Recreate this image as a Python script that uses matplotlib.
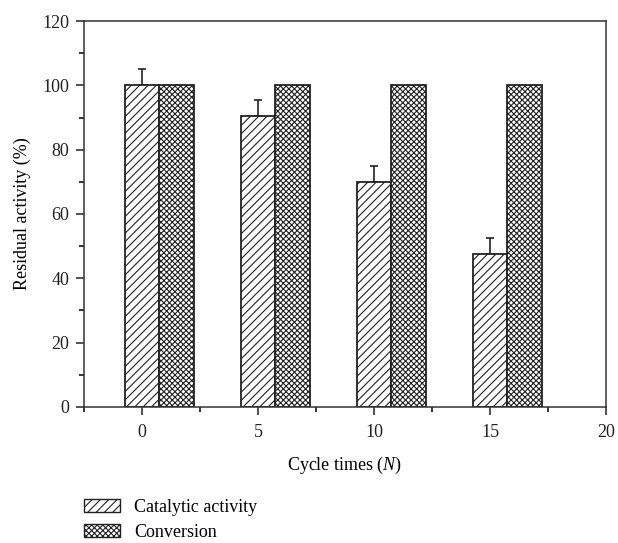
import matplotlib
matplotlib.use("Agg")
import matplotlib.pyplot as plt
import numpy as np
from matplotlib.patches import Patch

plt.rcParams['font.family'] = ['Liberation Serif', 'DejaVu Serif']
plt.rcParams['mathtext.fontset'] = 'custom'
plt.rcParams['mathtext.it'] = 'Liberation Serif:italic'
plt.rcParams['mathtext.rm'] = 'Liberation Serif'
plt.rcParams['hatch.linewidth'] = 0.8

cycles = [0, 5, 10, 15]
catalytic = [100, 90.5, 70, 47.5]
catalytic_err = [5, 5, 5, 5]
conversion = [100, 100, 100, 100]
x_ticks = [0, 5, 10, 15, 20]
y_ticks = [0, 20, 40, 60, 80, 100, 120]

HATCH_CAT = '////'
HATCH_CONV = 'xxxxxx'

fig = plt.figure(figsize=(6.18, 5.43), dpi=100)
ax = fig.add_axes([0.1359, 0.2505, 0.8447, 0.7108])

w = 1.5
x = np.array(cycles, dtype=float)
ax.errorbar(x, catalytic, yerr=[np.zeros(len(x)), catalytic_err], fmt='none',
            ecolor='#222222', elinewidth=1.2, capsize=3, capthick=1.2, zorder=1)
ax.bar(x, catalytic, width=w, facecolor='white', edgecolor='#222222',
       linewidth=1.3, hatch=HATCH_CAT, zorder=2)
ax.bar(x + w, conversion, width=w, facecolor='white', edgecolor='#222222',
       linewidth=1.3, hatch=HATCH_CONV, zorder=2)

ax.set_xlim(-2.5, 20)
ax.set_ylim(0, 120)
ax.set_xticks(x_ticks)
ax.set_xticks([-2.5, 2.5, 7.5, 12.5, 17.5], minor=True)
ax.set_yticks(y_ticks)
ax.set_yticks([10, 30, 50, 70, 90, 110], minor=True)
ax.tick_params(which='major', direction='out', length=5.5, width=1.1, labelsize=13,
               colors='#222222', pad=5)
ax.tick_params(axis='x', which='major', pad=7)
ax.tick_params(which='minor', direction='out', length=3.5, width=1.1)
for s in ax.spines.values():
    s.set_linewidth(1.1)
    s.set_color('#333333')

ax.set_xlabel('Cycle times ($\\mathit{N}$)', fontsize=13, labelpad=10)
ax.set_ylabel('Residual activity (%)', fontsize=13, labelpad=8)

handles = [Patch(facecolor='white', edgecolor='#222222', hatch=HATCH_CAT, label='Catalytic activity'),
           Patch(facecolor='white', edgecolor='#222222', hatch=HATCH_CONV, label='Conversion')]
fig.legend(handles=handles, loc='upper left', bbox_to_anchor=(0.136, 0.081),
           frameon=False, fontsize=13, handlelength=2.0, handleheight=0.75,
           labelspacing=0.45, handletextpad=0.77, borderaxespad=0, borderpad=0)

fig.savefig('out.png', dpi=100)
